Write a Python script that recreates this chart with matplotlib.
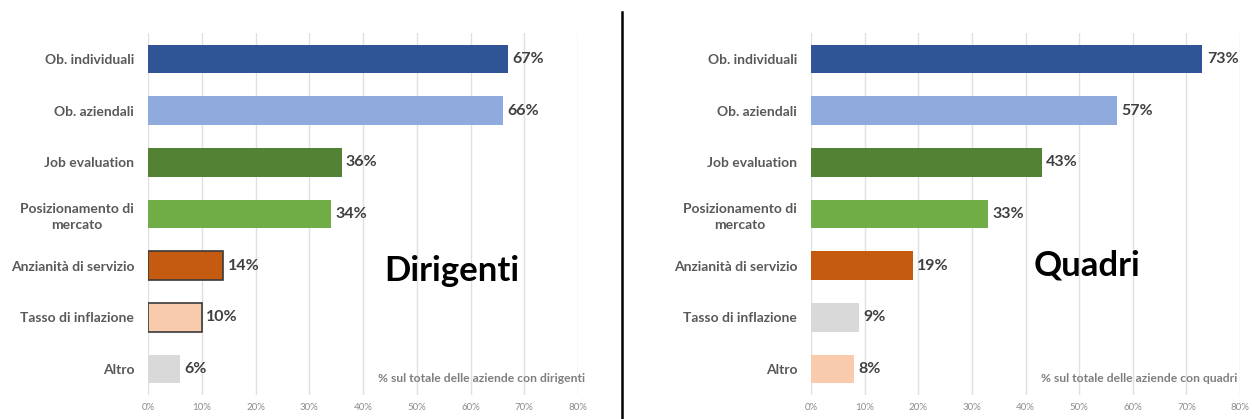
import matplotlib.pyplot as plt
from matplotlib.lines import Line2D

categories = ['Ob. individuali', 'Ob. aziendali', 'Job evaluation',
              'Posizionamento di\nmercato', 'Anzianità di servizio',
              'Tasso di inflazione', 'Altro']
dirigenti = [67, 66, 36, 34, 14, 10, 6]
quadri = [73, 57, 43, 33, 19, 9, 8]
ticks = [0, 10, 20, 30, 40, 50, 60, 70, 80]

col_dir = ['#2F5597', '#8FAADC', '#548235', '#70AD47', '#C55A11', '#F8CBAD', '#D9D9D9']
col_qua = ['#2F5597', '#8FAADC', '#548235', '#70AD47', '#C55A11', '#D9D9D9', '#F8CBAD']
edge_dir = ['none', 'none', 'none', 'none', '#3a3a3a', '#3a3a3a', 'none']

plt.rcParams['font.family'] = ['Lato', 'DejaVu Sans']

fig = plt.figure(figsize=(12.52, 4.19), dpi=100)


def draw(ax, values, colors, edges, title, note, title_xy, note_x):
    y = list(range(len(categories)))
    ax.barh(y, values, height=0.55, color=colors, edgecolor=edges, linewidth=1.2, zorder=3)
    for yi, v in zip(y, values):
        ax.text(v + 0.8, yi, f'{v}%', va='center', ha='left', fontsize=11.5,
                fontweight='bold', color='#404040')
    ax.set_xlim(0, 80)
    ax.set_ylim(6.5, -0.5)
    ax.set_xticks(ticks)
    ax.set_xticklabels([f'{t}%' for t in ticks], fontsize=7, color='#8c8c8c')
    ax.set_yticks(y)
    ax.set_yticklabels(categories, fontsize=10, fontweight='bold', color='#595959',
                       linespacing=1.4, multialignment='center')
    ax.tick_params(axis='both', length=0)
    ax.tick_params(axis='y', pad=10)
    ax.tick_params(axis='x', pad=6)
    ax.grid(axis='x', color='#e0e0e0', linewidth=1, zorder=0)
    for s in ax.spines.values():
        s.set_visible(False)
    ax.text(title_xy[0], title_xy[1], title, fontsize=25, fontweight='bold',
            color='black', ha='left', va='center')
    ax.text(note_x, 0.045, note, transform=ax.transAxes, fontsize=8.7,
            fontweight='bold', color='#7f7f7f', ha='right', va='center')


ax1 = fig.add_axes([148 / 1252, 1 - 395 / 419, 430 / 1252, 362 / 419])
draw(ax1, dirigenti, col_dir, edge_dir, 'Dirigenti',
     '% sul totale delle aziende con dirigenti', (44.0, 4.1), 1.017)

ax2 = fig.add_axes([811 / 1252, 1 - 395 / 419, 429 / 1252, 362 / 419])
draw(ax2, quadri, col_qua, ['none'] * 7, 'Quadri',
     '% sul totale delle aziende con quadri', (41.5, 4.0), 0.995)

# separator line between the two panels
fig.add_artist(Line2D([622 / 1252, 622 / 1252], [0, 1 - 12 / 419],
                      transform=fig.transFigure, color='black', linewidth=1.8))

fig.savefig('out.png', dpi=100, facecolor='white')
